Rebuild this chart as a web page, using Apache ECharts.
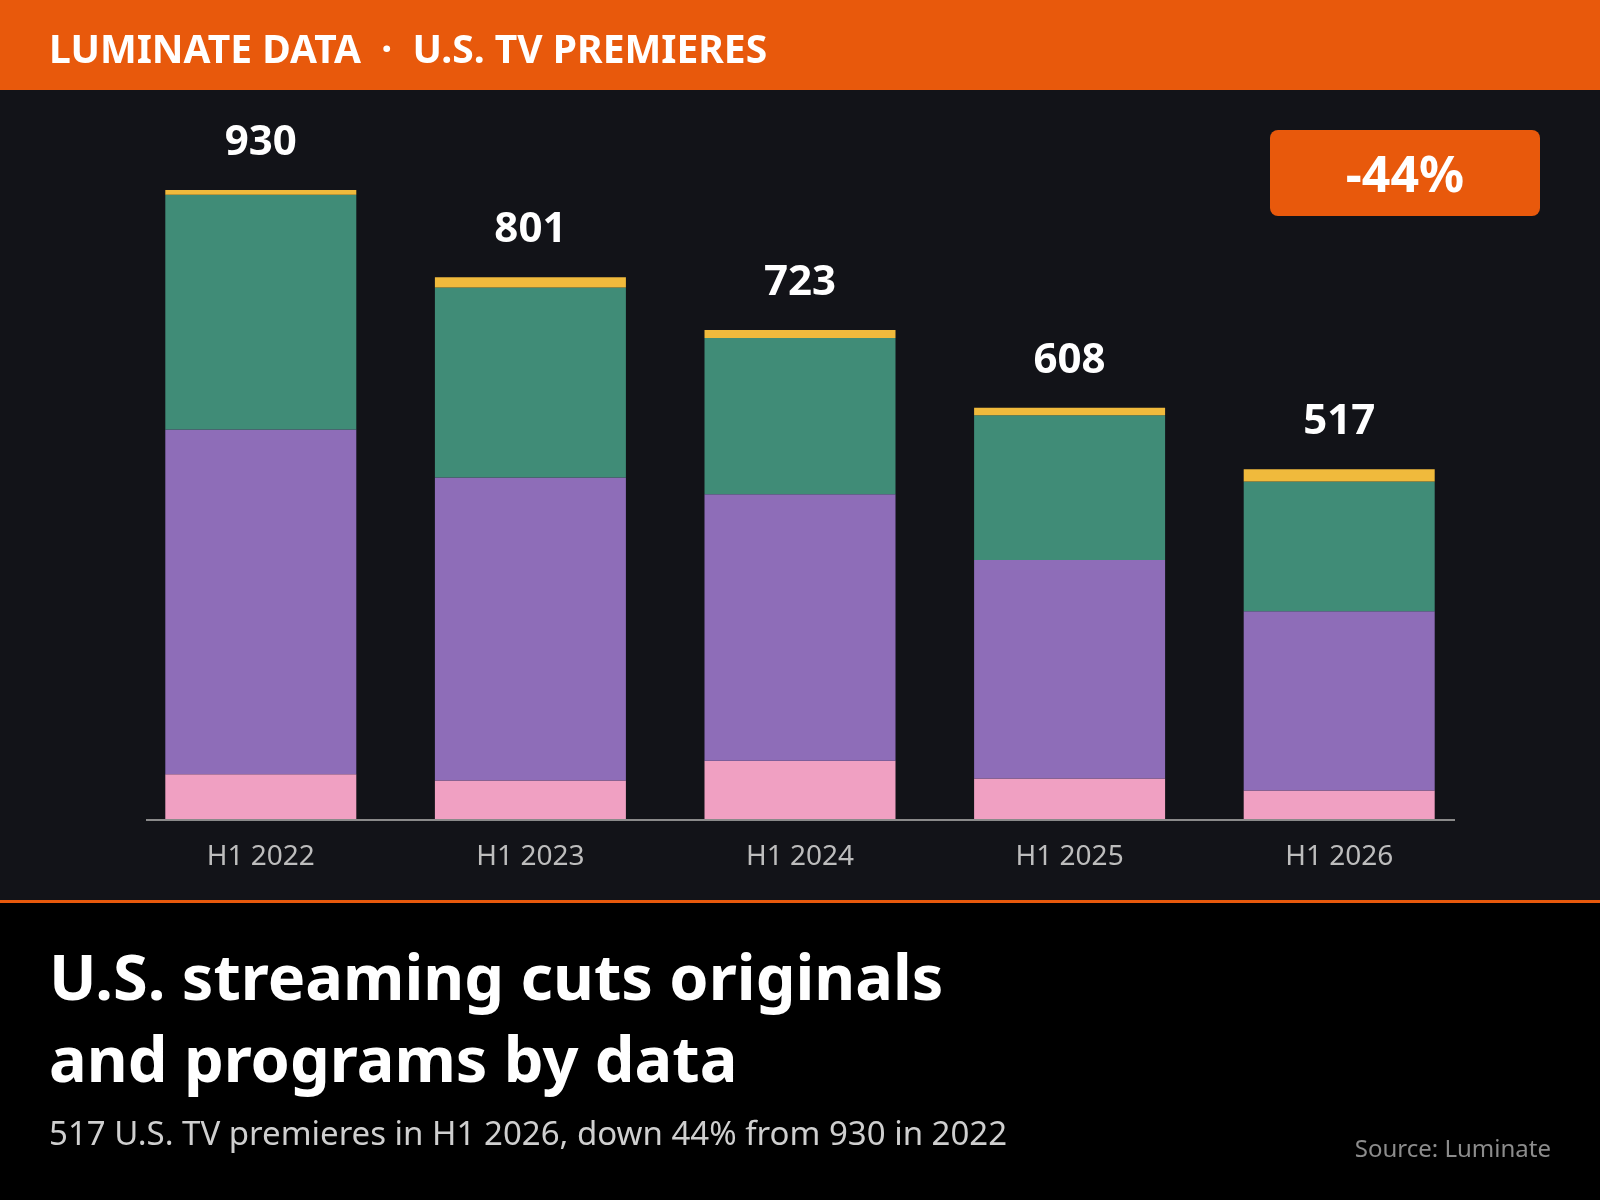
<!DOCTYPE html>
<html>
<head>
<meta charset="utf-8">
<script src="https://cdn.jsdelivr.net/npm/echarts@6/dist/echarts.min.js"></script>
<style>
  html, body { margin: 0; padding: 0; background: #000; }
  #chart { width: 1600px; height: 1200px; }
</style>
</head>
<body>
<div id="chart"></div>
<script>
// Data
const categories = ["H1 2022", "H1 2023", "H1 2024", "H1 2025", "H1 2026"];
const pinkSeg = [66, 57, 86, 60, 42];
const purpleSeg = [510, 448, 394, 323, 265];
const greenSeg = [347, 281, 231, 214, 192];
const yellowSeg = [7, 15, 12, 11, 18];
const totals = [930, 801, 723, 608, 517];

const chart = echarts.init(document.getElementById("chart"));

const FONT = "'Noto Sans', sans-serif";

function seg(name, data, color, extra) {
  return Object.assign({
    name: name,
    type: "bar",
    stack: "all",
    data: data,
    barWidth: 191,
    itemStyle: { color: color },
    silent: true,
  }, extra || {});
}

const option = {
  backgroundColor: "#000000",
  animation: false,
  textStyle: { fontFamily: FONT },
  grid: { left: 126, right: 126, top: 190, bottom: 381 },
  xAxis: {
    type: "category",
    data: categories,
    axisLine: { show: false },
    axisTick: { show: false },
    axisLabel: { color: "#bdbdbd", fontSize: 28, margin: 24, fontFamily: FONT },
  },
  yAxis: {
    type: "value",
    min: 0,
    max: 930,
    show: false,
    splitLine: { show: false },
  },
  graphic: [
    // dark chart panel and orange header
    { type: "rect", z: -10, shape: { x: 0, y: 90, width: 1600, height: 810 }, style: { fill: "#121318" } },
    { type: "rect", z: -10, shape: { x: 0, y: 0, width: 1600, height: 90 }, style: { fill: "#E8590C" } },
    { type: "rect", z: -10, shape: { x: 0, y: 900, width: 1600, height: 3 }, style: { fill: "#E8590C" } },
    // baseline
    { type: "line", z: 10, shape: { x1: 146, y1: 820, x2: 1455, y2: 820 }, style: { stroke: "#8a8a8a", lineWidth: 2 } },
    { type: "text", left: 49, top: 32, style: { text: "LUMINATE DATA  ·  U.S. TV PREMIERES", fill: "#fff", font: "bold 39px " + FONT } },
    // badge
    { type: "rect", shape: { x: 1270, y: 130, width: 270, height: 86, r: 8 }, style: { fill: "#E8590C" } },
    { type: "text", x: 1405, y: 178, style: { text: "-44%", fill: "#fff", font: "bold 50px " + FONT, textAlign: "center", textVerticalAlign: "middle" } },
    // bottom titles
    { type: "text", left: 49, top: 941, style: { text: "U.S. streaming cuts originals\nand programs by data", fill: "#fff", font: "bold 63px " + FONT, lineHeight: 82 } },
    { type: "text", left: 49, top: 1119, style: { text: "517 U.S. TV premieres in H1 2026, down 44% from 930 in 2022", fill: "#cfcfcf", font: "33px " + FONT } },
    { type: "text", right: 49, top: 1138, style: { text: "Source: Luminate", fill: "#8c8c8c", font: "24px " + FONT, textAlign: "right" } },
  ],
  series: [
    seg("pink", pinkSeg, "#F0A0C2"),
    seg("purple", purpleSeg, "#8E6DB8"),
    seg("green", greenSeg, "#408C77"),
    seg("yellow", yellowSeg, "#F0BA3C", {
      label: {
        show: true,
        position: "top",
        distance: 26,
        color: "#fff",
        fontSize: 42,
        fontWeight: "bold",
        fontFamily: FONT,
        formatter: (p) => String(totals[p.dataIndex]),
      },
    }),
  ],
};

chart.setOption(option);
</script>
</body>
</html>
